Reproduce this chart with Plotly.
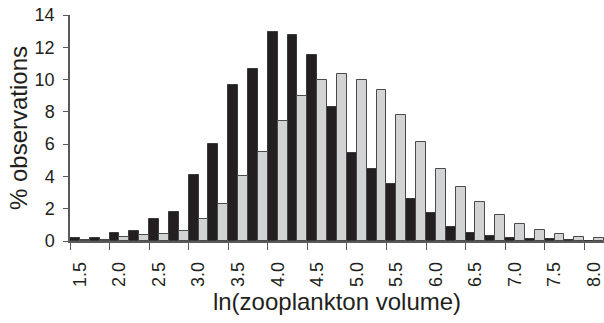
import plotly.graph_objects as go

# bin centres of ln(zooplankton volume), width 0.25
categories = [1.5, 1.75, 2.0, 2.25, 2.5, 2.75, 3.0, 3.25, 3.5, 3.75, 4.0, 4.25, 4.5,
              4.75, 5.0, 5.25, 5.5, 5.75, 6.0, 6.25, 6.5, 6.75, 7.0, 7.25, 7.5, 7.75, 8.0]
black_values = [0.21, 0.21, 0.50, 0.60, 1.36, 1.78, 4.07, 6.00, 9.65, 10.65, 12.96, 12.78, 11.50,
                8.32, 5.43, 4.45, 3.52, 2.62, 1.74, 0.87, 0.50, 0.29, 0.19, 0.11, 0.11, 0.09, 0.03]
grey_values = [0.09, 0.09, 0.25, 0.40, 0.46, 0.60, 1.34, 2.32, 4.05, 5.49, 7.43, 8.97, 10.00,
               10.33, 9.96, 9.38, 7.83, 6.16, 4.43, 3.35, 2.40, 1.64, 1.06, 0.66, 0.46, 0.27, 0.21]
tick_labels = ["1.5", "2.0", "2.5", "3.0", "3.5", "4.0", "4.5", "5.0", "5.5", "6.0",
               "6.5", "7.0", "7.5", "8.0"]
y_ticks = [0, 2, 4, 6, 8, 10, 12, 14]

idx = list(range(len(categories)))
label_pos = [i for i in idx if i % 2 == 0]
boundary_pos = [i - 0.5 for i in label_pos]

FONT = "Liberation Sans, Arial, Helvetica, sans-serif"
TXT = "#231f20"
AX = "#58595b"

fig = go.Figure()
fig.add_trace(go.Bar(x=idx, y=black_values, name="black",
                     marker=dict(color="#231f20", line=dict(color="#3a3a3c", width=1))))
fig.add_trace(go.Bar(x=idx, y=grey_values, name="grey",
                     marker=dict(color="#d1d3d4", line=dict(color="#4a4a4c", width=1))))

fig.update_layout(
    width=604, height=323,
    margin=dict(l=70, r=0, t=15, b=82, autoexpand=False),
    paper_bgcolor="white", plot_bgcolor="white",
    barmode="group", bargap=0, bargroupgap=0,
    showlegend=False,
    font=dict(family=FONT, color=TXT),
)
fig.update_xaxes(
    automargin=False,
    range=[-0.5, len(categories) - 0.5],
    tickmode="array", tickvals=label_pos, ticktext=tick_labels,
    tickangle=-90, ticks="", tickfont=dict(size=18, color=TXT),
    ticklabelstandoff=12,
    minor=dict(tickmode="array", tickvals=boundary_pos, ticks="outside",
               ticklen=7, tickcolor=AX, tickwidth=1, showgrid=False),
    showline=True, linecolor=AX, linewidth=1.5,
    showgrid=False, zeroline=False,
    title=dict(text="ln(zooplankton volume)", font=dict(size=24, color=TXT), standoff=7),
)
fig.update_yaxes(
    automargin=False,
    range=[0, 14], tickmode="array", tickvals=y_ticks,
    ticks="outside", ticklen=5, tickcolor=AX, tickwidth=1,
    tickfont=dict(size=18, color=TXT),
    ticklabelstandoff=5,
    showline=True, linecolor=AX, linewidth=1.5,
    showgrid=False, zeroline=False,
    title=dict(text="% observations", font=dict(size=24, color=TXT), standoff=0),
)
fig.write_html("out.html", config={"displayModeBar": False},
               post_script="document.body.style.margin='0';")
